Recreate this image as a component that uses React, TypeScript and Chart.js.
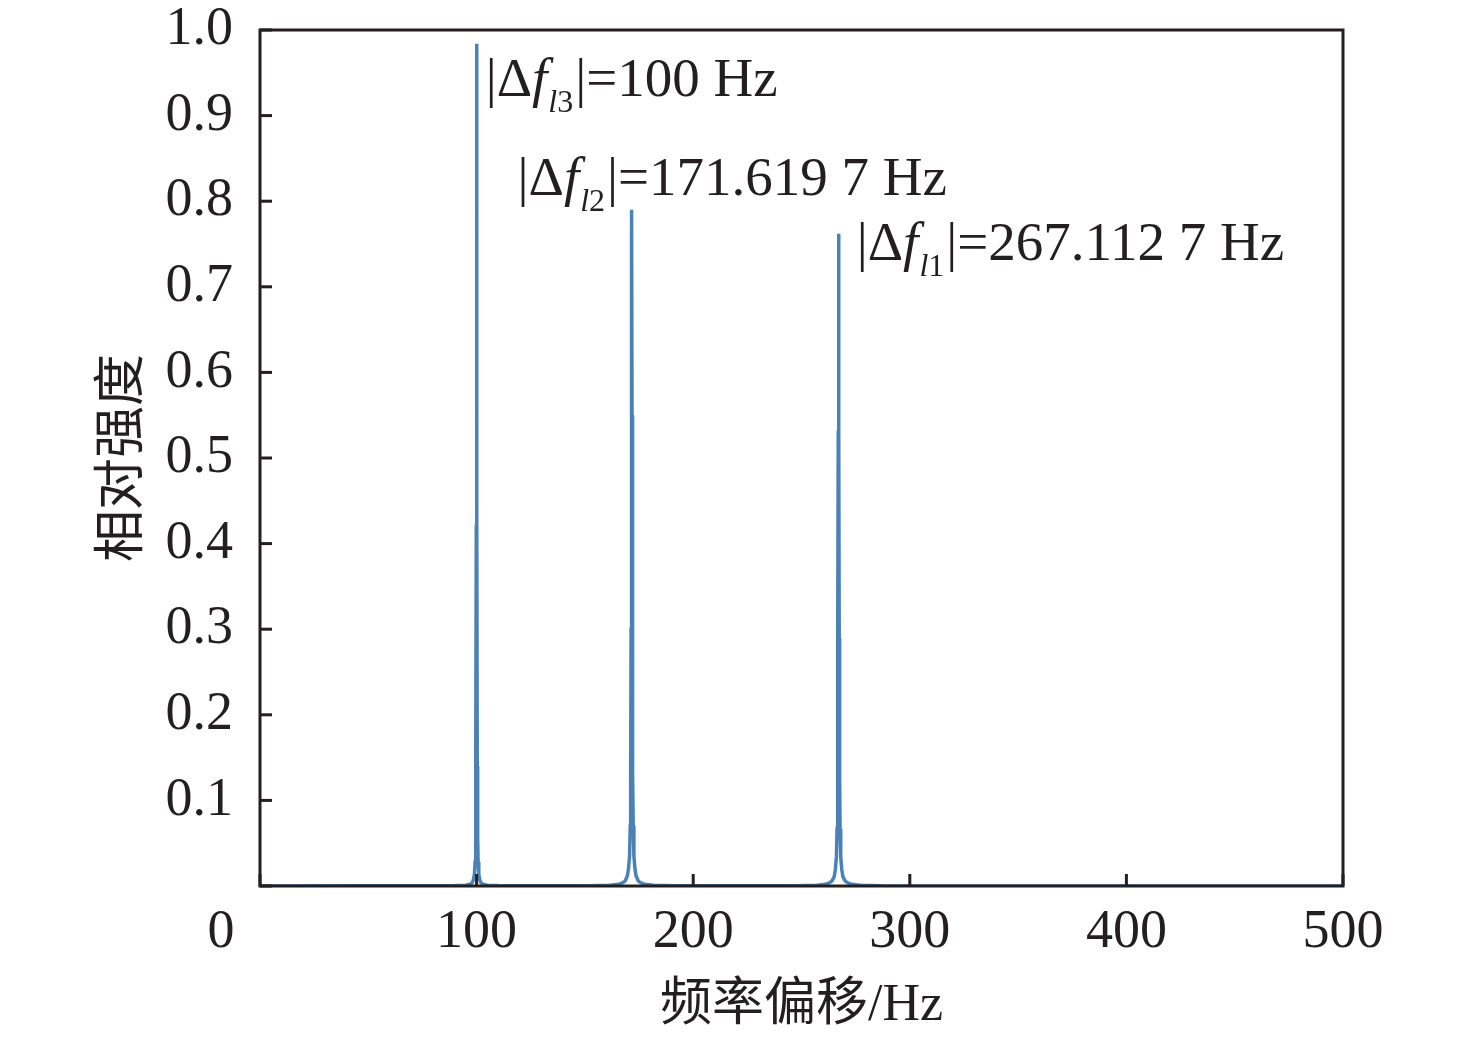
import React, { useEffect, useRef } from 'react';
import { Chart, registerables } from 'chart.js';

Chart.register(...registerables);

// Frequency offset (Hz) and relative intensity
const baselineStartFreq = [0];
const baselineStartInt = [0];

const peakL3Freq = [90, 95, 97, 98, 98.5, 99, 99.3, 99.5, 99.7, 99.85, 100, 100.15, 100.3, 100.5, 100.7, 101, 101.5, 102, 103, 105, 110];
const peakL3Int = [0.0005, 0.001, 0.002, 0.004, 0.007, 0.014, 0.028, 0.055, 0.14, 0.42, 0.984, 0.42, 0.14, 0.055, 0.028, 0.014, 0.007, 0.004, 0.002, 0.001, 0.0005];

const peakL2Freq = [151.62, 161.62, 165.62, 167.62, 168.62, 169.62, 170.12, 170.62, 170.92, 171.12, 171.32, 171.47, 171.62, 171.77, 171.92, 172.12, 172.32, 172.62, 173.12, 173.62, 174.62, 175.62, 177.62, 181.62, 191.62];
const peakL2Int = [0.0003, 0.001, 0.002, 0.004, 0.006, 0.012, 0.02, 0.035, 0.07, 0.13, 0.3, 0.55, 0.79, 0.55, 0.3, 0.13, 0.07, 0.035, 0.02, 0.012, 0.006, 0.004, 0.002, 0.001, 0.0003];

const peakL1Freq = [247.11, 257.11, 261.11, 263.11, 264.11, 265.11, 265.61, 266.11, 266.41, 266.61, 266.81, 266.96, 267.11, 267.26, 267.41, 267.61, 267.81, 268.11, 268.61, 269.11, 270.11, 271.11, 273.11, 277.11, 287.11];
const peakL1Int = [0.0003, 0.001, 0.002, 0.004, 0.006, 0.011, 0.019, 0.034, 0.067, 0.125, 0.29, 0.53, 0.762, 0.53, 0.29, 0.125, 0.067, 0.034, 0.019, 0.011, 0.006, 0.004, 0.002, 0.001, 0.0003];

const baselineEndFreq = [500];
const baselineEndInt = [0];

// Annotations
const annotationFreq = [104.2, 118.9, 275.5];
const annotationInt = [0.923, 0.807, 0.731];
const annotationSub = ['3', '2', '1'];
const annotationValue = ['100 Hz', '171.619 7 Hz', '267.112 7 Hz'];

const xTitle = '频率偏移/Hz';
const yTitle = '相对强度';

const SERIF = '"Liberation Serif", "Times New Roman", serif';
const CJK = '"Liberation Serif", "Noto Sans CJK SC", sans-serif';
const INK = '#231f20';

function buildPoints() {
  const fs = [baselineStartFreq, peakL3Freq, peakL2Freq, peakL1Freq, baselineEndFreq];
  const is = [baselineStartInt, peakL3Int, peakL2Int, peakL1Int, baselineEndInt];
  const pts: { x: number; y: number }[] = [];
  fs.forEach((f, k) => f.forEach((v, i) => pts.push({ x: v, y: is[k][i] })));
  return pts;
}

const framePlugin = {
  id: 'framePlugin',
  afterDatasetsDraw(chart: any) {
    const { ctx, chartArea } = chart;
    const xs = chart.scales.x;
    const ys = chart.scales.y;
    const { left, right, top, bottom } = chartArea;
    ctx.save();
    ctx.strokeStyle = INK;
    ctx.lineWidth = 3;
    ctx.strokeRect(left, top, right - left, bottom - top);
    // inward ticks
    xs.ticks.forEach((t: any) => {
      const px = xs.getPixelForValue(t.value);
      ctx.beginPath();
      ctx.moveTo(px, bottom);
      ctx.lineTo(px, bottom - 12);
      ctx.stroke();
    });
    ys.ticks.forEach((t: any) => {
      const py = ys.getPixelForValue(t.value);
      ctx.beginPath();
      ctx.moveTo(left, py);
      ctx.lineTo(left + 12, py);
      ctx.stroke();
    });
    // origin label
    ctx.fillStyle = INK;
    ctx.font = `54px ${SERIF}`;
    ctx.textAlign = 'center';
    ctx.textBaseline = 'middle';
    ctx.fillText('0', xs.getPixelForValue(0) - 39, bottom + 47);

    // annotations
    ctx.textAlign = 'left';
    ctx.textBaseline = 'alphabetic';
    annotationFreq.forEach((f, i) => {
      let cx = xs.getPixelForValue(f);
      const by = ys.getPixelForValue(annotationInt[i]);
      const put = (txt: string, font: string, dy = 0) => {
        ctx.font = font;
        ctx.fillText(txt, cx, by + dy);
        cx += ctx.measureText(txt).width;
      };
      put('|\u0394', `55px ${SERIF}`);
      put('f', `italic 55px ${SERIF}`);
      cx += 1;
      put('l', `italic 32px ${SERIF}`, 16);
      put(annotationSub[i], `32px ${SERIF}`, 16);
      cx += 2;
      put('|=' + annotationValue[i], `55px ${SERIF}`);
    });
    ctx.restore();
  },
};

export default function App() {
  const ref = useRef<HTMLCanvasElement | null>(null);
  useEffect(() => {
    document.body.style.margin = '0';
    if (!ref.current) return;
    const chart = new Chart(ref.current, {
      type: 'line',
      data: {
        datasets: [
          {
            data: buildPoints(),
            borderColor: '#4b82b6',
            borderWidth: 3.5,
            pointRadius: 0,
            tension: 0,
            fill: false,
          },
        ],
      },
      options: {
        animation: false,
        responsive: true,
        maintainAspectRatio: false,
        layout: { padding: { left: 0, right: 133, top: 30, bottom: 0 } },
        plugins: { legend: { display: false }, tooltip: { enabled: false } },
        scales: {
          x: {
            type: 'linear',
            min: 0,
            max: 500,
            grid: { display: false, drawTicks: false },
            border: { display: false },
            ticks: {
              stepSize: 100,
              color: INK,
              padding: 14,
              font: { family: SERIF, size: 54, lineHeight: 1.2 },
              maxRotation: 0,
              callback: (v: any) => (v === 0 ? '' : String(v)),
            },
            title: {
              display: true,
              text: xTitle,
              color: INK,
              font: { family: CJK, size: 52, lineHeight: 1.2 },
              padding: { top: 0, bottom: 2 },
            },
            afterFit: (s: any) => {
              s.height = 154;
              s.paddingLeft = 0;
              s.paddingRight = 0;
            },
          },
          y: {
            type: 'linear',
            min: 0,
            max: 1,
            grid: { display: false, drawTicks: false },
            border: { display: false },
            ticks: {
              stepSize: 0.1,
              color: INK,
              padding: 27,
              font: { family: SERIF, size: 54, lineHeight: 1.0 },
              callback: (v: any) => (Math.abs(v) < 1e-9 ? '' : Number(v).toFixed(1)),
            },
            title: {
              display: true,
              text: yTitle,
              color: INK,
              font: { family: CJK, size: 52, lineHeight: 1.2 },
              padding: { top: 93, bottom: 0 },
            },
            afterFit: (s: any) => {
              s.width = 260;
              s.paddingTop = 0;
              s.paddingBottom = 0;
            },
          },
        },
      },
      plugins: [framePlugin],
    });
    return () => chart.destroy();
  }, []);
  return (
    <div style={{ width: 1476, height: 1040, position: 'relative', background: '#fff' }}>
      <canvas ref={ref} />
    </div>
  );
}
